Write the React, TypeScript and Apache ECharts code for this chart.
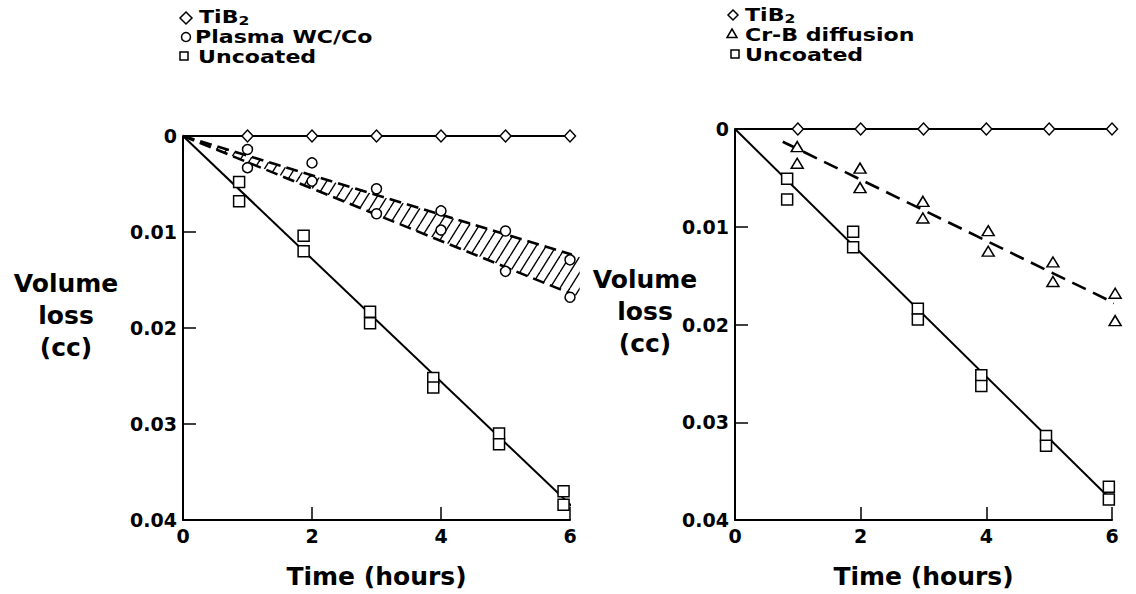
import React, { useEffect, useRef } from "react";
import * as echarts from "echarts";

// ---------- data (time in hours, volume loss in cc) ----------
const yTickValues = [0, 0.01, 0.02, 0.03, 0.04];
const xTickValues = [0, 2, 4, 6];

// Left panel
const leftTiB2Points: number[][] = [[1, 0], [2, 0], [3, 0], [4, 0], [5, 0], [6, 0]];
const leftTiB2Line: number[][] = [[0, 0], [6, 0]];
const plasmaPoints: number[][] = [
  [1, 0.0014], [1, 0.0033],
  [2, 0.0028], [2, 0.0047],
  [3, 0.0055], [3, 0.0081],
  [4, 0.0078], [4, 0.0098],
  [5, 0.0099], [5, 0.0141],
  [6, 0.0129], [6, 0.0168],
];
const plasmaBandUpper: number[][] = [[0, 0], [6.15, 0.0126]];
const plasmaBandLower: number[][] = [[0, 0], [6.15, 0.0168]];
const leftUncoatedPoints: number[][] = [
  [0.87, 0.0048], [0.87, 0.0068],
  [1.87, 0.0104], [1.87, 0.012],
  [2.9, 0.0183], [2.9, 0.0195],
  [3.88, 0.0252], [3.88, 0.0262],
  [4.9, 0.031], [4.9, 0.0321],
  [5.9, 0.037], [5.9, 0.0384],
];
const leftUncoatedLine: number[][] = [[0, 0], [6.05, 0.0387]];

// Right panel
const rightTiB2Points: number[][] = [[1, 0], [2, 0], [3, 0], [4, 0], [5, 0], [6, 0]];
const rightTiB2Line: number[][] = [[0, 0], [6, 0]];
const crbPoints: number[][] = [
  [0.99, 0.0018], [0.99, 0.0035],
  [1.99, 0.004], [1.99, 0.006],
  [2.99, 0.0074], [2.99, 0.0091],
  [4.03, 0.0104], [4.03, 0.0125],
  [5.06, 0.0136], [5.06, 0.0156],
  [6.05, 0.0168], [6.05, 0.0196],
];
const crbLine: number[][] = [[0.76, 0.0013], [6.29, 0.0186]];
const rightUncoatedPoints: number[][] = [
  [0.83, 0.0051], [0.83, 0.0072],
  [1.88, 0.0105], [1.88, 0.0121],
  [2.91, 0.0184], [2.91, 0.0195],
  [3.92, 0.0252], [3.92, 0.0263],
  [4.95, 0.0314], [4.95, 0.0324],
  [5.95, 0.0366], [5.95, 0.0379],
];
const rightUncoatedLine: number[][] = [[0, 0], [6, 0.038]];

const FONT = '"DejaVu Sans", "Liberation Sans", Arial, sans-serif';

function makeHatch(): HTMLCanvasElement {
  const c = document.createElement("canvas");
  const w = 10;
  const h = 16;
  c.width = w;
  c.height = h;
  const ctx = c.getContext("2d")!;
  ctx.strokeStyle = "#000";
  ctx.lineWidth = 1.4;
  for (const off of [-w, 0, w]) {
    ctx.beginPath();
    ctx.moveTo(off, h);
    ctx.lineTo(off + w, 0);
    ctx.stroke();
  }
  return c;
}

export default function App() {
  const ref = useRef<HTMLDivElement>(null);

  useEffect(() => {
    if (!ref.current) return;
    const chart = echarts.init(ref.current, undefined, { renderer: "svg" });
    const hatch = makeHatch();

    const labelStyle = {
      color: "#000",
      fontFamily: FONT,
      fontWeight: "bold" as const,
      fontSize: 19,
    };

    const xAxis = [0, 1].map((i) => ({
      gridIndex: i,
      type: "value" as const,
      min: 0,
      max: 6,
      interval: 2,
      axisLine: { show: true, onZero: false, lineStyle: { color: "#000", width: 2 } },
      axisTick: { show: true, inside: true, length: 13, lineStyle: { color: "#000", width: 1.5 } },
      axisLabel: {
        ...labelStyle,
        margin: 6,
        formatter: (v: number) => (xTickValues.includes(v) ? String(v) : ""),
      },
      splitLine: { show: false },
      name: "Time (hours)",
      nameLocation: "middle" as const,
      nameGap: 44,
      nameTextStyle: { color: "#000", fontFamily: FONT, fontWeight: "bold" as const, fontSize: 25 },
    }));

    const yAxis = [0, 1].map((i) => ({
      gridIndex: i,
      type: "value" as const,
      inverse: true,
      min: 0,
      max: 0.04,
      interval: 0.01,
      axisLine: { show: true, onZero: false, lineStyle: { color: "#000", width: 2 } },
      axisTick: { show: true, inside: true, length: 13, lineStyle: { color: "#000", width: 1.5 } },
      axisLabel: {
        ...labelStyle,
        margin: 6,
        formatter: (v: number) => {
          const idx = yTickValues.findIndex((t) => Math.abs(t - v) < 1e-9);
          if (idx < 0) return "";
          return idx === 0 ? "0" : yTickValues[idx].toFixed(2);
        },
      },
      splitLine: { show: false },
    }));

    const lineSeries = (name: string, idx: number, data: number[][], dash?: number[]) => ({
      name,
      type: "line" as const,
      xAxisIndex: idx,
      yAxisIndex: idx,
      data,
      symbol: "none",
      clip: false,
      z: 2,
      lineStyle: {
        color: "#000",
        width: dash ? 2.6 : 2,
        type: dash ? (dash as any) : ("solid" as const),
      },
    });

    const scatterSeries = (name: string, idx: number, data: number[][], symbol: string, size: any) => ({
      name,
      type: "scatter" as const,
      xAxisIndex: idx,
      yAxisIndex: idx,
      data,
      symbol,
      symbolSize: size,
      clip: false,
      z: 4,
      itemStyle: { color: "#fff", borderColor: "#000", borderWidth: 1.5, opacity: 1 },
    });

    const bandSeries = {
      name: "Plasma WC/Co band",
      type: "custom" as const,
      xAxisIndex: 0,
      yAxisIndex: 0,
      clip: false,
      silent: true,
      z: 1,
      data: [[0, 0]],
      renderItem: (_params: any, api: any) => {
        const pts = [...plasmaBandUpper, ...plasmaBandLower.slice().reverse()].map((p) => api.coord(p));
        return {
          type: "polygon",
          shape: { points: pts },
          style: { fill: { image: hatch, repeat: "repeat" }, stroke: null },
        };
      },
    };

    const txt = (size: number) => ({
      fontSize: size,
      fontWeight: "bold",
      fontFamily: FONT,
      fill: "#000",
    });

    const LEG = 17;
    const legendText = (x: number, y: number, text: string, rich?: any) => ({
      type: "text",
      x,
      y,
      scaleX: 1.3,
      silent: true,
      style: {
        text,
        ...txt(LEG),
        align: "left",
        verticalAlign: "middle",
        rich,
      },
    });

    const tibRich = {
      a: { ...txt(LEG) },
      b: { ...txt(12), padding: [8, 0, 0, 0] },
    };

    const mk = { fill: "#fff", stroke: "#000", lineWidth: 1.5 };

    const graphic: any[] = [
      // left legend
      { type: "polygon", silent: true, shape: { points: [[186, 12], [192, 18], [186, 24], [180, 18]] }, style: mk },
      legendText(199, 17, "{a|TiB}{b|2}", tibRich),
      { type: "circle", silent: true, shape: { cx: 186, cy: 37, r: 4.5 }, style: mk },
      legendText(195, 37, "Plasma WC/Co"),
      { type: "rect", silent: true, shape: { x: 180, y: 52, width: 8, height: 8 }, style: mk },
      legendText(198, 57, "Uncoated"),
      // right legend
      { type: "polygon", silent: true, shape: { points: [[733, 10], [738, 15], [733, 20], [728, 15]] }, style: mk },
      legendText(745, 15, "{a|TiB}{b|2}", tibRich),
      { type: "polygon", silent: true, shape: { points: [[732, 29], [737, 37.5], [727, 37.5]] }, style: mk },
      legendText(745, 35, "Cr-B diffusion"),
      { type: "rect", silent: true, shape: { x: 731, y: 50, width: 8, height: 8 }, style: mk },
      legendText(745, 55, "Uncoated"),
      // y axis titles
      {
        type: "text",
        x: 66,
        y: 315,
        silent: true,
        style: { text: "Volume\nloss\n(cc)", ...txt(25), align: "center", verticalAlign: "middle", lineHeight: 32 },
      },
      {
        type: "text",
        x: 645,
        y: 311,
        silent: true,
        style: { text: "Volume\nloss\n(cc)", ...txt(25), align: "center", verticalAlign: "middle", lineHeight: 32 },
      },
    ];

    chart.setOption({
      animation: false,
      backgroundColor: "#fff",
      grid: [
        { left: 183, top: 136, width: 387, height: 392 },
        { left: 735, top: 129, width: 377, height: 394 },
      ],
      xAxis,
      yAxis,
      graphic,
      series: [
        bandSeries,
        lineSeries("Plasma band upper", 0, plasmaBandUpper, [12, 6]),
        lineSeries("Plasma band lower", 0, plasmaBandLower, [12, 6]),
        lineSeries("TiB2 line", 0, leftTiB2Line),
        lineSeries("Uncoated line", 0, leftUncoatedLine),
        scatterSeries("TiB2", 0, leftTiB2Points, "diamond", [11, 12]),
        scatterSeries("Plasma WC/Co", 0, plasmaPoints, "circle", 10),
        scatterSeries("Uncoated", 0, leftUncoatedPoints, "rect", [11, 11]),
        lineSeries("TiB2 line R", 1, rightTiB2Line),
        lineSeries("Cr-B line", 1, crbLine, [15, 8]),
        lineSeries("Uncoated line R", 1, rightUncoatedLine),
        scatterSeries("TiB2 R", 1, rightTiB2Points, "diamond", [11, 12]),
        scatterSeries("Cr-B diffusion", 1, crbPoints, "triangle", [12, 10]),
        scatterSeries("Uncoated R", 1, rightUncoatedPoints, "rect", [11, 11]),
      ],
    });

    return () => chart.dispose();
  }, []);

  return (
    <div
      ref={ref}
      style={{ position: "absolute", left: 0, top: 0, width: 1136, height: 594, background: "#fff" }}
    />
  );
}
